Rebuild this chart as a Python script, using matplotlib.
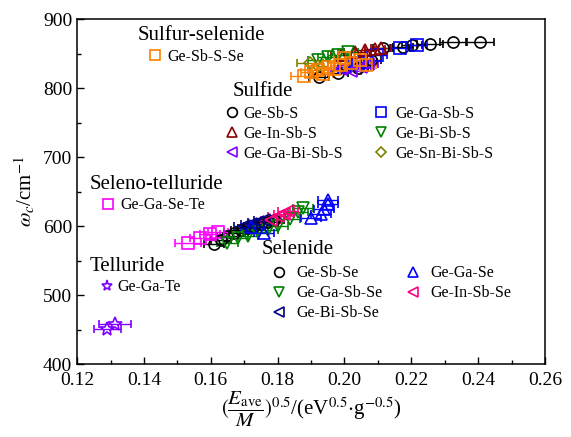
import matplotlib
matplotlib.use('Agg')
import matplotlib.pyplot as plt
from matplotlib.lines import Line2D
from matplotlib.legend import Legend

plt.rcParams['font.family'] = 'Liberation Serif'
plt.rcParams['mathtext.fontset'] = 'stix'

# ---- data ----
# Sulfur-selenide
ge_sb_s_se_x = [0.188, 0.190, 0.192, 0.1935, 0.195, 0.197, 0.199, 0.200, 0.202, 0.2045, 0.2065]
ge_sb_s_se_y = [817, 823, 826, 820, 830, 828, 834, 843, 836, 840, 833]
ge_sb_s_se_xerr = [0.004, 0.003, 0.003, 0.003, 0.003, 0.003, 0.003, 0.003, 0.003, 0.003, 0.003]

# Sulfide
ge_sb_s_x = [0.1925, 0.198, 0.204, 0.208, 0.2115, 0.2175, 0.2202, 0.2256, 0.2325, 0.2406]
ge_sb_s_y = [816, 822, 829, 840, 858, 859, 862, 864, 866, 866]
ge_sb_s_xerr = [0.003, 0.003, 0.003, 0.003, 0.003, 0.003, 0.003, 0.004, 0.004, 0.004]

ge_ga_sb_s_x = [0.200, 0.204, 0.2067, 0.2097, 0.2166, 0.2217]
ge_ga_sb_s_y = [830, 836, 838, 848, 858, 862]
ge_ga_sb_s_xerr = [0.003, 0.003, 0.003, 0.003, 0.003, 0.003]

ge_in_sb_s_x = [0.199, 0.203, 0.206, 0.209, 0.211]
ge_in_sb_s_y = [848, 852, 855, 857, 858]
ge_in_sb_s_xerr = [0.003, 0.003, 0.003, 0.003, 0.003]

ge_bi_sb_s_x = [0.192, 0.195, 0.198, 0.201]
ge_bi_sb_s_y = [840, 845, 848, 852]
ge_bi_sb_s_xerr = [0.003, 0.003, 0.003, 0.003]

ge_ga_bi_sb_s_x = [0.199, 0.202, 0.205, 0.207]
ge_ga_bi_sb_s_y = [828, 824, 830, 835]
ge_ga_bi_sb_s_xerr = [0.003, 0.003, 0.003, 0.003]

ge_sn_bi_sb_s_x = [0.1897, 0.192]
ge_sn_bi_sb_s_y = [836, 832]
ge_sn_bi_sb_s_xerr = [0.004, 0.003]

# Seleno-telluride
ge_ga_se_te_x = [0.1532, 0.1568, 0.1598, 0.1622]
ge_ga_se_te_y = [576, 583, 588, 591]
ge_ga_se_te_xerr = [0.004, 0.003, 0.003, 0.003]

# Selenide
ge_sb_se_x = [0.161, 0.163, 0.165, 0.167, 0.169, 0.171, 0.173, 0.175, 0.177, 0.179]
ge_sb_se_y = [574, 580, 586, 590, 594, 597, 600, 603, 606, 609]
ge_sb_se_xerr = [0.003, 0.003, 0.003, 0.003, 0.003, 0.003, 0.003, 0.003, 0.003, 0.003]

ge_ga_se_x = [0.172, 0.176, 0.190, 0.193, 0.194, 0.195, 0.195]
ge_ga_se_y = [598, 590, 612, 618, 625, 632, 638]
ge_ga_se_xerr = [0.003, 0.003, 0.003, 0.003, 0.003, 0.003, 0.003]

ge_ga_sb_se_x = [0.165, 0.168, 0.171, 0.174, 0.177, 0.180, 0.1837, 0.186, 0.1876]
ge_ga_sb_se_y = [576, 582, 586, 591, 594, 600, 610, 620, 626]
ge_ga_sb_se_xerr = [0.003, 0.003, 0.003, 0.003, 0.003, 0.003, 0.003, 0.003, 0.003]

ge_in_sb_se_x = [0.178, 0.180, 0.182, 0.183]
ge_in_sb_se_y = [608, 614, 618, 622]
ge_in_sb_se_xerr = [0.003, 0.003, 0.003, 0.003]

ge_bi_sb_se_x = [0.170, 0.172, 0.174, 0.176]
ge_bi_sb_se_y = [600, 603, 606, 609]
ge_bi_sb_se_xerr = [0.003, 0.003, 0.003, 0.003]

# Telluride
ge_ga_te_x = [0.1290, 0.1314]
ge_ga_te_y = [451, 458]
ge_ga_te_xerr = [0.004, 0.0048]

# label, x, y, xerr, marker, colour
series = [
    ('Ge-Sb-Se', ge_sb_se_x, ge_sb_se_y, ge_sb_se_xerr, 'o', 'black'),
    ('Ge-Ga-Se-Te', ge_ga_se_te_x, ge_ga_se_te_y, ge_ga_se_te_xerr, 's', '#FF00FF'),
    ('Ge-Ga-Sb-Se', ge_ga_sb_se_x, ge_ga_sb_se_y, ge_ga_sb_se_xerr, 'v', '#008000'),
    ('Ge-Bi-Sb-Se', ge_bi_sb_se_x, ge_bi_sb_se_y, ge_bi_sb_se_xerr, '<', '#000080'),
    ('Ge-Ga-Se', ge_ga_se_x, ge_ga_se_y, ge_ga_se_xerr, '^', '#0000FF'),
    ('Ge-In-Sb-Se', ge_in_sb_se_x, ge_in_sb_se_y, ge_in_sb_se_xerr, '<', '#FF0080'),
    ('Ge-Ga-Te', ge_ga_te_x, ge_ga_te_y, ge_ga_te_xerr, '*', '#8000FF'),
    ('Ge-Sb-S', ge_sb_s_x, ge_sb_s_y, ge_sb_s_xerr, 'o', 'black'),
    ('Ge-Ga-Sb-S', ge_ga_sb_s_x, ge_ga_sb_s_y, ge_ga_sb_s_xerr, 's', '#0000FF'),
    ('Ge-In-Sb-S', ge_in_sb_s_x, ge_in_sb_s_y, ge_in_sb_s_xerr, '^', '#8B0000'),
    ('Ge-Ga-Bi-Sb-S', ge_ga_bi_sb_s_x, ge_ga_bi_sb_s_y, ge_ga_bi_sb_s_xerr, '<', '#8000FF'),
    ('Ge-Bi-Sb-S', ge_bi_sb_s_x, ge_bi_sb_s_y, ge_bi_sb_s_xerr, 'v', '#008000'),
    ('Ge-Sn-Bi-Sb-S', ge_sn_bi_sb_s_x, ge_sn_bi_sb_s_y, ge_sn_bi_sb_s_xerr, 'D', '#808000'),
    ('Ge-Sb-S-Se', ge_sb_s_se_x, ge_sb_s_se_y, ge_sb_s_se_xerr, 's', '#FF8000'),
]
style = {s[0]: (s[4], s[5]) for s in series}

fig = plt.figure(figsize=(5.71, 4.37), dpi=100)
ax = fig.add_subplot(111)
fig.subplots_adjust(left=0.135, right=0.9545, bottom=0.167, top=0.9565)

for label, x, y, xerr, m, c in series:
    ms = 10 if m == '*' else (6.5 if m == 'D' else 8)
    ax.errorbar(x, y, xerr=xerr, fmt=m, ls='none', mfc='none', mec=c, mew=1.2,
                ms=ms, ecolor=c, elinewidth=1, capsize=3, capthick=1)

ax.set_xlim(0.12, 0.26)
ax.set_ylim(400, 900)
ax.set_xticks([0.12, 0.14, 0.16, 0.18, 0.20, 0.22, 0.24, 0.26])
ax.set_xticks([0.13, 0.15, 0.17, 0.19, 0.21, 0.23, 0.25], minor=True)
ax.set_yticks([400, 500, 600, 700, 800, 900])
ax.set_yticks([450, 550, 650, 750, 850], minor=True)
ax.tick_params(direction='in', labelsize=14, length=5, width=1)
ax.tick_params(axis='x', pad=6)
ax.tick_params(which='minor', direction='in', length=3, width=1)
for sp in ax.spines.values():
    sp.set_linewidth(1.1)

ax.set_xlabel(r'$(\dfrac{E_{\mathrm{ave}}}{M})^{0.5}$/(eV$^{0.5}$$\cdot$g$^{-0.5}$)', fontsize=15, labelpad=0)
ax.set_ylabel(r'$\omega_{c}$/cm$^{-1}$', fontsize=15, labelpad=4)


# ---- group legends (pixel positions of the 571x437 image) ----
def frac(xp, yp):
    return ((xp - 77) / 468, (365 - yp) / 346)


FS = 11.5
FS_PX = FS * 100 / 72


def title(text, xp, yp):
    ax.text(*frac(xp, yp), text, transform=ax.transAxes, fontsize=15, ha='left', va='center')


def column(labels, marker_x, row_y, text_x, spacing=0.25):
    handles = [Line2D([], [], marker=style[l][0], color=style[l][1], mfc='none', mew=1.2,
                      ms=8 if style[l][0] == '*' else (5.5 if style[l][0] == 'D' else 7), ls='none')
               for l in labels]
    hl = 1.0
    pad = (text_x - marker_x - hl * FS_PX / 2) / FS_PX
    leg = Legend(ax, handles, labels, loc='upper left', frameon=False, fontsize=FS,
                 bbox_to_anchor=frac(marker_x - hl * FS_PX / 2, row_y - 9),
                 bbox_transform=ax.transAxes,
                 borderpad=0, borderaxespad=0, handlelength=hl, handletextpad=pad,
                 labelspacing=spacing)
    ax.add_artist(leg)


title('Sulfur-selenide', 138, 36)
column(['Ge-Sb-S-Se'], 155, 58, 167)

title('Sulfide', 233, 92)
column(['Ge-Sb-S', 'Ge-In-Sb-S', 'Ge-Ga-Bi-Sb-S'], 232, 115, 243)
column(['Ge-Ga-Sb-S', 'Ge-Bi-Sb-S', 'Ge-Sn-Bi-Sb-S'], 381, 115, 395)

title('Seleno-telluride', 90, 185)
column(['Ge-Ga-Se-Te'], 108, 207, 120)

title('Selenide', 262, 250)
column(['Ge-Sb-Se', 'Ge-Ga-Sb-Se', 'Ge-Bi-Sb-Se'], 279, 275, 296)
column(['Ge-Ga-Se', 'Ge-In-Sb-Se'], 413, 275, 430)

title('Telluride', 90, 267)
column(['Ge-Ga-Te'], 107, 289, 117)

fig.savefig('out.png', dpi=100)
